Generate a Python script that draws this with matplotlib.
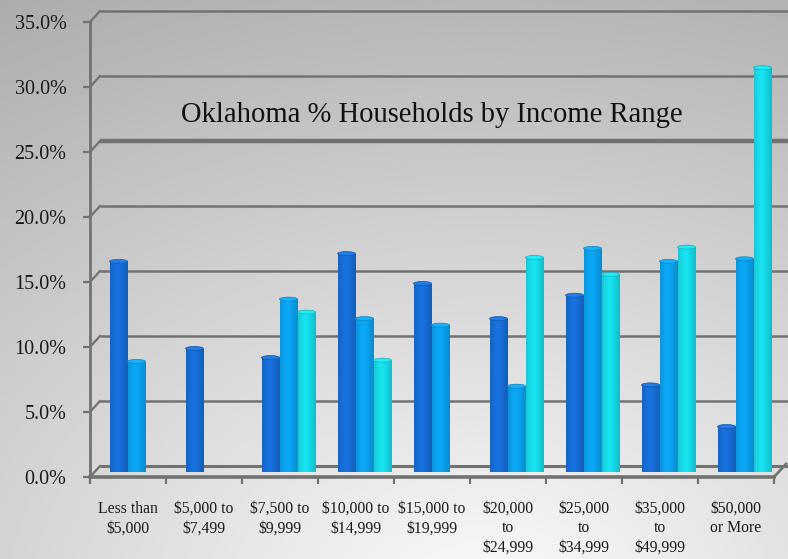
import numpy as np
import matplotlib
matplotlib.use('Agg')
import matplotlib.pyplot as plt
from matplotlib.patches import Rectangle, Ellipse
from matplotlib.colors import to_rgb

# household share (%) per income range, three survey series
categories = ['Less than\n$5,000', '$5,000 to\n$7,499', '$7,500 to\n$9,999',
              '$10,000 to\n$14,999', '$15,000 to\n$19,999', '$20,000\nto\n$24,999',
              '$25,000\nto\n$34,999', '$35,000\nto\n$49,999', '$50,000\nor More']
series_a = [16.2, 9.5, 8.8, 16.8, 14.5, 11.8, 13.6, 6.7, 3.5]
series_b = [8.5, None, 13.3, 11.8, 11.3, 6.6, 17.2, 16.2, 16.4]
series_c = [None, None, 12.3, 8.6, None, 16.5, 15.2, 17.3, 31.1]
y_ticks = [0, 5, 10, 15, 20, 25, 30, 35]

colors = ['#1668cc', '#0a9ae2', '#16d0dc']
font = 'Liberation Serif'

W, H = 788, 559
fig = plt.figure(figsize=(W / 100, H / 100), dpi=100)

# grey backdrop, lighter toward the bottom
bg = fig.add_axes([0, 0, 1, 1])
yy, xx = np.mgrid[0:1:300j, 0:1:400j]
d = np.sqrt(((xx - 0.62) * 1.0) ** 2 + ((1.08 - yy) * 1.0) ** 2)
shade = np.clip(0.985 - 0.25 * d, 0, 1)
bg.imshow(shade, cmap='gray', vmin=0, vmax=1, extent=[0, 1, 0, 1],
          origin='upper', aspect='auto')
bg.axis('off')

ax = fig.add_axes([90 / W, (H - 477) / H, 684 / W, 455 / H])
ax.set_xlim(0, 9)
ax.set_ylim(0, 35)
ax.patch.set_alpha(0)
for s in ax.spines.values():
    s.set_visible(False)

px_x = 9 / 684.0   # data units per pixel
px_y = 35 / 455.0
back_dx, back_dy = 10 * px_x, 11 * px_y
grid_c = '#727272'

# back wall grid with the little side-wall connectors
for t in y_ticks:
    lw = 3.2 if t == 25 else 1.8
    if t == 0:
        lw = 2.2
    ax.plot([back_dx, 9 + 14 * px_x], [t + back_dy, t + back_dy], color=grid_c,
            lw=lw, clip_on=False, zorder=1, solid_capstyle='butt')
    ax.plot([0, back_dx], [t, t + back_dy], color=grid_c, lw=1.6,
            clip_on=False, zorder=1)
ax.plot([9, 9 + back_dx + 2 * px_x], [0, back_dy + 2 * px_y], color=grid_c,
        lw=2, clip_on=False, zorder=1)

# front axis lines
ax.plot([0, 0], [0, 35], color=grid_c, lw=2, clip_on=False, zorder=1)
ax.plot([0, 9], [0, 0], color=grid_c, lw=2.6, clip_on=False, zorder=1)

# cylinder-style columns
bar_w = 18 * px_x
shift_x = 8.5 * px_x
shift_y = 5 * px_y
grad = np.linspace(0, 1, 64)
profile = 1 - 0.55 * np.abs(grad - 0.42) ** 1.3 * 2


def draw_bar(xc, val, color):
    base = np.array(to_rgb(color))
    x0 = xc - bar_w / 2
    y0 = shift_y
    rect = Rectangle((x0, y0), bar_w, val, facecolor='none', edgecolor='none')
    ax.add_patch(rect)
    img = np.clip(base[None, :] * (0.72 + 0.38 * profile[:, None]), 0, 1)
    img = img[None, :, :]
    im = ax.imshow(img, extent=[x0, x0 + bar_w, y0, y0 + val],
                   aspect='auto', zorder=3, interpolation='bilinear')
    im.set_clip_path(rect)
    top = Ellipse((xc, y0 + val), bar_w, 4 * px_y,
                  facecolor=np.clip(base * 1.08 + 0.04, 0, 1),
                  edgecolor=np.clip(base * 0.85, 0, 1), lw=0.5, zorder=4)
    ax.add_patch(top)


for i in range(len(categories)):
    for k, vals in enumerate([series_a, series_b, series_c]):
        v = vals[i]
        if v is None:
            continue
        draw_bar(i + 0.5 + shift_x + (k - 1) * bar_w, v, colors[k])

# axes ticks and labels
ax.set_yticks(y_ticks)
ax.set_yticklabels(['%.1f%%' % t for t in y_ticks], fontsize=14.5,
                   family=font, color='#1a1a1a')
ax.tick_params(axis='y', length=5, width=1.6, color=grid_c, pad=12)
ax.set_xticks(range(10))
ax.set_xticklabels([])
ax.tick_params(axis='x', which='major', length=5, width=1.6, color=grid_c)
ax.set_xticks([i + 0.5 for i in range(9)], minor=True)
ax.set_xticklabels(categories, minor=True, fontsize=11.3, family=font,
                   color='#1a1a1a', linespacing=1.3, va='top')
ax.tick_params(axis='x', which='minor', length=0, pad=17)

ax.text(0.5, 0.795, 'Oklahoma % Households by Income Range',
        transform=ax.transAxes, ha='center', va='center', fontsize=20.6,
        family=font, color='#111111', zorder=5)

fig.savefig('out.png', dpi=100)
